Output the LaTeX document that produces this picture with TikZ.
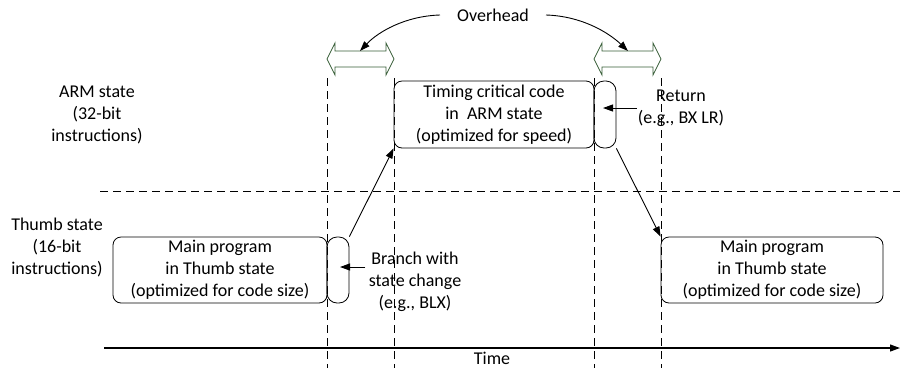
\documentclass[tikz,border=0pt]{standalone}
\usepackage{fontspec}
\setmainfont{Carlito}
\usepackage{xcolor}
\usepackage{tikz}
\usetikzlibrary{positioning,calc,arrows.meta}
\definecolor{ovgreen}{RGB}{56,94,56}
\tikzset{
    codebox/.style={draw, line width=0.8pt, rounded corners=8pt, align=center, inner sep=0pt, minimum height=66pt},
    switchbox/.style={draw, line width=0.8pt, rounded corners=10pt, minimum width=22pt, minimum height=66pt},
    flowarrow/.style={-{Triangle[length=10pt,width=7pt]}, line width=0.9pt},
    timeline/.style={dash pattern=on 8pt off 5pt, line width=0.8pt},
}

\begin{document}
\begin{tikzpicture}[x=1pt, y=-1pt, font=\fontsize{18}{22}\selectfont]
    \useasboundingbox (0,0) rectangle (900,368);

    % State divider and time axis
    \draw [timeline] (100,191) -- (900,191);
    \coordinate (t0) at (104,348); \coordinate (t1) at (900,348);
    \draw [flowarrow, line width=1.2pt] (t0) -- (t1);
    \node [inner sep=1pt] (time) at (492,358) {Time};

    % Overhead intervals
    \foreach \x in {327,394,594,661}
        \draw [timeline] (\x,78) -- (\x,368);
    \foreach \a/\b in {327/394,594/661}
        \draw [ovgreen, line width=0.8pt, fill=white] (\a,59) -- (\a+8,43) -- (\a+8,51) -- (\b-8,51) -- (\b-8,43) -- (\b,59)
            -- (\b-8,75) -- (\b-8,67) -- (\a+8,67) -- (\a+8,75) -- cycle;
    \node [inner xsep=17pt] (ovh) at (493,15) {Overhead};
    \coordinate (ovl) at (360,51); \coordinate (ovr) at (628,51);
    \draw [flowarrow] (ovh.west) .. controls (405,16) and (378,32) .. (ovl);
    \draw [flowarrow] (ovh.east) .. controls (581,16) and (608,32) .. (ovr);

    % State labels
    \node [align=center] (armst) at (97,115) {ARM state\\(32-bit\\instructions)};
    \node [align=center] (thumbst) at (57,247) {Thumb state\\(16-bit\\instructions)};

    % Code blocks
    \node [codebox, minimum width=214pt] (thumbl) at (220,270) {Main program\\in Thumb state\\(optimized for code size)};
    \node [switchbox] (branch) at (338,270) {};
    \node [codebox, minimum width=200pt, minimum height=67pt] (arm) at (494,114.5) {Timing critical code\\in \ ARM state\\(optimized for speed)};
    \node [switchbox, minimum height=67pt] (ret) at (605,114.5) {};
    \node [codebox, minimum width=222pt] (thumbr) at (772,270) {Main program\\in Thumb state\\(optimized for code size)};

    \draw [flowarrow] (branch.north east) -- (arm.south west);
    \draw [flowarrow] (ret.south east) -- (thumbr.north west);

    % Switch labels
    \node [align=center] (brlab) at (415,282) {Branch with\\state change\\(e.g., BLX)};
    \coordinate (brtip) at (340,267);
    \draw [flowarrow] (brlab.west |- brtip) -- (brtip);
    \node [align=center, inner sep=1pt] (retlab) at (681,108) {Return\\(e.g., BX LR)};
    \coordinate (rettip) at (603,108);
    \draw [flowarrow] (retlab.west |- rettip) -- (rettip);
\end{tikzpicture}
\end{document}
